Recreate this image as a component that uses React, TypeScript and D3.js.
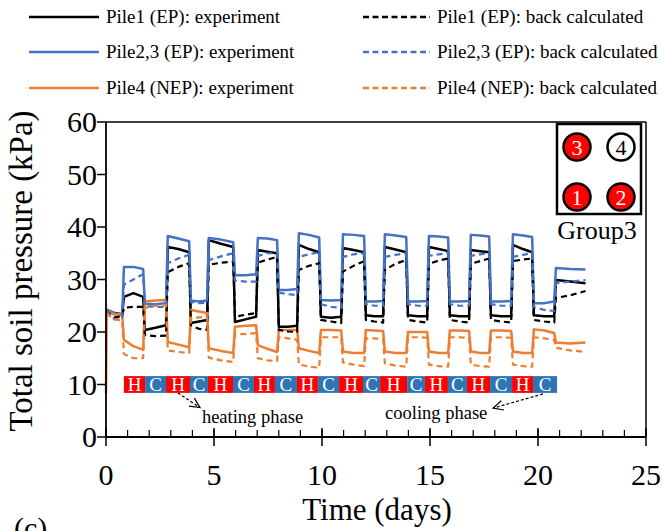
import React from 'react';
import * as d3 from 'd3';

// time grid (days) shared by all series
const days = [
  0, 0.03, 0.4, 0.75,
  0.83, 1.27, 1.72,
  1.80, 2.29, 2.78,
  2.86, 3.35, 3.85,
  3.93, 4.3, 4.68,
  4.76, 5.32, 5.89,
  5.97, 6.46, 6.95,
  7.03, 7.47, 7.92,
  8.00, 8.42, 8.85,
  8.93, 9.4, 9.87,
  9.95, 10.42, 10.89,
  10.97, 11.46, 11.95,
  12.03, 12.43, 12.83,
  12.91, 13.4, 13.9,
  13.98, 14.44, 14.87,
  14.95, 15.4, 15.84,
  15.92, 16.37, 16.81,
  16.89, 17.32, 17.74,
  17.82, 18.3, 18.76,
  18.84, 19.3, 19.73,
  19.81, 20.3, 20.75,
  20.83, 21.5, 22.2,
];

const pile1Exp = [
  24.0, 24.0, 23.6, 23.4,
  26.7, 27.4, 26.7,
  20.4, 20.8, 21.3,
  36.2, 35.8, 35.2,
  21.7, 22.0, 22.3,
  37.5, 36.8, 36.2,
  21.9, 22.4, 22.9,
  35.6, 35.3, 35.0,
  21.0, 21.0, 21.2,
  36.6, 35.8, 35.2,
  22.9, 22.7, 22.9,
  36.0, 35.6, 35.2,
  23.2, 23.0, 23.0,
  36.2, 35.7, 35.2,
  23.2, 23.0, 23.0,
  36.2, 35.8, 35.4,
  23.2, 23.0, 23.0,
  35.6, 35.4, 35.2,
  23.2, 23.0, 23.0,
  36.6, 35.8, 35.2,
  23.2, 23.0, 23.0,
  29.9, 29.6, 29.3,
];

const pile23Exp = [
  24.3, 24.3, 23.6, 23.2,
  32.4, 32.4, 32.0,
  25.4, 25.3, 25.5,
  38.3, 37.8, 37.3,
  26.0, 25.8, 26.0,
  37.9, 37.6, 37.1,
  30.8, 30.8, 31.0,
  37.9, 37.8, 37.5,
  28.0, 28.0, 28.2,
  38.8, 38.5, 38.0,
  26.1, 26.0, 26.1,
  38.6, 38.5, 38.3,
  25.8, 25.8, 25.9,
  38.6, 38.4, 38.1,
  25.8, 25.8, 25.9,
  38.3, 38.2, 38.0,
  25.8, 25.8, 25.9,
  38.5, 38.4, 38.2,
  25.8, 25.8, 25.9,
  38.6, 38.4, 38.1,
  25.5, 25.5, 25.8,
  32.2, 32.0, 31.9,
];

const pile4Exp = [
  8.4, 24.0, 23.3, 23.5,
  18.5, 17.3, 16.6,
  25.8, 26.0, 26.1,
  18.1, 17.6, 17.1,
  24.2, 23.9, 23.6,
  16.9, 16.4, 16.0,
  21.0, 21.2, 21.3,
  17.5, 16.8, 16.2,
  20.4, 20.4, 20.4,
  16.9, 16.4, 16.0,
  20.4, 20.4, 20.3,
  16.3, 16.0, 16.0,
  20.4, 20.3, 20.2,
  16.3, 16.0, 16.0,
  20.0, 20.0, 20.0,
  16.3, 16.0, 16.0,
  20.3, 20.3, 20.2,
  16.3, 16.0, 16.0,
  20.3, 20.3, 20.2,
  16.3, 16.0, 16.0,
  20.5, 20.3, 19.8,
  18.0, 17.8, 18.0,
];

const pile1Calc = [
  24.0, 24.0, 22.8, 23.0,
  24.6, 24.8, 24.8,
  19.4, 19.2, 19.3,
  31.4, 32.4, 33.1,
  21.3, 20.6, 20.4,
  32.8, 33.2, 33.4,
  22.9, 23.3, 23.6,
  33.2, 33.8, 34.3,
  20.4, 20.1, 20.0,
  31.8, 32.6, 33.1,
  22.3, 22.0, 21.7,
  31.5, 32.6, 33.5,
  22.3, 22.0, 21.8,
  31.8, 33.0, 33.7,
  22.3, 22.0, 21.8,
  33.0, 33.6, 34.0,
  22.3, 22.0, 21.8,
  33.0, 33.5, 34.0,
  22.3, 22.0, 21.8,
  33.5, 33.8, 34.0,
  22.3, 22.0, 21.8,
  26.5, 27.0, 27.8,
];

const pile23Calc = [
  24.0, 24.0, 22.4, 22.6,
  29.0, 30.0, 31.0,
  24.9, 24.8, 24.8,
  33.1, 34.0, 34.7,
  25.7, 25.5, 25.6,
  33.7, 34.4, 35.0,
  29.8, 29.6, 29.6,
  34.5, 35.0, 35.0,
  27.5, 27.2, 27.0,
  34.3, 34.8, 35.2,
  25.3, 24.8, 24.6,
  34.3, 34.8, 35.0,
  25.3, 25.0, 25.0,
  34.3, 34.7, 35.0,
  25.3, 25.0, 25.0,
  34.5, 34.8, 35.0,
  25.3, 25.0, 25.0,
  34.5, 34.8, 35.0,
  25.3, 25.0, 25.0,
  34.3, 34.7, 35.0,
  24.8, 24.2, 24.0,
  29.3, 29.6, 29.9,
];

const pile4Calc = [
  23.5, 23.5, 22.4, 22.2,
  15.8, 15.0, 15.0,
  24.6, 25.0, 25.1,
  16.5, 16.2, 16.0,
  22.5, 22.8, 22.9,
  15.1, 14.6, 14.3,
  19.6, 19.6, 19.8,
  15.0, 14.6, 14.5,
  19.0, 18.8, 18.5,
  13.8, 13.4, 13.2,
  19.0, 19.0, 19.0,
  14.2, 13.8, 13.5,
  18.8, 18.8, 18.6,
  14.0, 13.6, 13.4,
  19.0, 19.0, 18.9,
  13.8, 13.5, 13.4,
  19.0, 19.0, 18.9,
  13.8, 13.5, 13.4,
  19.0, 19.0, 18.9,
  13.8, 13.5, 13.4,
  19.0, 18.8, 18.5,
  17.0, 16.5, 16.2,
];

// heating / cooling phase strip (day boundaries)
const phaseBounds = [0.83, 1.81, 2.78, 3.89, 4.72, 5.88, 6.85, 7.82, 8.84, 9.81, 10.79,
  11.90, 12.69, 13.94, 14.77, 15.83, 16.71, 17.78, 18.80, 19.77, 20.88];
const phaseLabels = ['H', 'C', 'H', 'C', 'H', 'C', 'H', 'C', 'H', 'C',
  'H', 'C', 'H', 'C', 'H', 'C', 'H', 'C', 'H', 'C'];

const xTicks = [0, 5, 10, 15, 20, 25];
const xMinorTicks = d3.range(0, 26, 1);
const yTicks = [0, 10, 20, 30, 40, 50, 60];

const BLACK = '#000000';
const BLUE = '#4472C4';
const ORANGE = '#ED7D31';

const seriesList = [
  { name: 'Pile1 (EP): experiment', values: pile1Exp, color: BLACK, dashed: false },
  { name: 'Pile2,3 (EP): experiment', values: pile23Exp, color: BLUE, dashed: false },
  { name: 'Pile4 (NEP): experiment', values: pile4Exp, color: ORANGE, dashed: false },
  { name: 'Pile1 (EP): back calculated', values: pile1Calc, color: BLACK, dashed: true },
  { name: 'Pile2,3 (EP): back calculated', values: pile23Calc, color: BLUE, dashed: true },
  { name: 'Pile4 (NEP): back calculated', values: pile4Calc, color: ORANGE, dashed: true },
];

const groupPiles = [
  { label: '3', active: true, col: 0, row: 0 },
  { label: '4', active: false, col: 1, row: 0 },
  { label: '1', active: true, col: 0, row: 1 },
  { label: '2', active: true, col: 1, row: 1 },
];

const FONT = "'Liberation Serif', 'Times New Roman', serif";

export default function App() {
  const W = 663, H = 531;
  const x = d3.scaleLinear().domain([0, 25]).range([106, 646]);
  const y = d3.scaleLinear().domain([0, 60]).range([437, 122]);

  const line = d3.line<[number, number]>()
    .x((d) => x(d[0]))
    .y((d) => y(d[1]));

  const stripTop = y(11.6);
  const stripBot = y(8.4);

  const arrow = (x1: number, y1: number, x2: number, y2: number) => {
    const ang = Math.atan2(y2 - y1, x2 - x1);
    const L = 11;
    const a1 = ang + Math.PI - 0.45;
    const a2 = ang + Math.PI + 0.45;
    return (
      <g>
        <line x1={x1} y1={y1} x2={x2} y2={y2} stroke="#000" strokeWidth={1.2} strokeDasharray="3,2" />
        <path
          d={`M${x2 + L * Math.cos(a1)},${y2 + L * Math.sin(a1)} L${x2},${y2} L${x2 + L * Math.cos(a2)},${y2 + L * Math.sin(a2)}`}
          fill="none" stroke="#000" strokeWidth={1.2}
        />
      </g>
    );
  };

  const legendRows = [17, 52, 88];

  return (
    <svg width={W} height={H} style={{ position: 'absolute', left: 0, top: 0, background: '#fff' }}
      fontFamily={FONT}>
      <rect x={0} y={0} width={W} height={H} fill="#fff" />

      {/* legend */}
      {seriesList.map((s, i) => {
        const col = s.dashed ? 1 : 0;
        const row = i % 3;
        const ly = legendRows[row];
        const lx1 = col === 0 ? 29 : 363;
        const lx2 = col === 0 ? 99 : 430;
        const tx = col === 0 ? 106 : 437;
        return (
          <g key={'lg' + i}>
            <line x1={lx1} y1={ly} x2={lx2} y2={ly} stroke={s.color} strokeWidth={s.dashed ? 2.5 : 2.5}
              strokeDasharray={s.dashed ? '6,3.5' : undefined} />
            <text x={tx} y={ly + 6} fontSize={19} fill="#000">{s.name}</text>
          </g>
        );
      })}

      {/* frame top/right */}
      <line x1={x(0)} y1={y(60)} x2={x(25)} y2={y(60)} stroke="#000" strokeWidth={1.5} />
      <line x1={x(25)} y1={y(60)} x2={x(25)} y2={y(0)} stroke="#000" strokeWidth={1.5} />

      {/* phase strip */}
      {phaseLabels.map((lab, i) => {
        const x1 = x(phaseBounds[i]);
        const x2 = x(phaseBounds[i + 1]);
        return (
          <g key={'ph' + i}>
            <rect x={x1} y={stripTop} width={x2 - x1} height={stripBot - stripTop}
              fill={lab === 'H' ? '#FF0000' : '#2E75B6'} />
            <text x={(x1 + x2) / 2} y={(stripTop + stripBot) / 2 + 6.5} fontSize={19} fill="#fff"
              textAnchor="middle">{lab}</text>
          </g>
        );
      })}

      {/* data lines */}
      {seriesList.map((s, i) => (
        <path key={'s' + i}
          d={line(days.map((t, j) => [t, s.values[j]] as [number, number])) || ''}
          fill="none" stroke={s.color} strokeWidth={s.dashed ? 2.2 : 2.5}
          strokeDasharray={s.dashed ? '6,4' : undefined}
          strokeLinejoin="round" />
      ))}

      {/* annotations */}
      {arrow(x(3.33), y(8.4), x(4.35), y(5.6))}
      {arrow(x(20.23), y(8.2), x(17.92), y(5.5))}
      <text x={x(4.44)} y={423} fontSize={18.5} fill="#000">heating phase</text>
      <text x={x(12.92)} y={419} fontSize={18.5} fill="#000">cooling phase</text>

      {/* axes */}
      <line x1={x(0)} y1={y(0)} x2={x(25)} y2={y(0)} stroke="#000" strokeWidth={1.8} />
      <line x1={x(0)} y1={y(0)} x2={x(0)} y2={y(60)} stroke="#000" strokeWidth={1.8} />
      {xMinorTicks.map((t) => (
        <line key={'mt' + t} x1={x(t)} x2={x(t)} y1={y(0)} y2={y(0) - 7} stroke="#000" strokeWidth={1.2} />
      ))}
      {xTicks.map((t) => (
        <g key={'xt' + t}>
          <line x1={x(t)} x2={x(t)} y1={y(0) - 9} y2={y(0) + 9} stroke="#000" strokeWidth={1.5} />
          <text x={x(t)} y={485} fontSize={30} textAnchor="middle" fill="#000">{t}</text>
        </g>
      ))}
      {yTicks.map((t) => (
        <g key={'yt' + t}>
          <line x1={x(0) - 9} x2={x(0)} y1={y(t)} y2={y(t)} stroke="#000" strokeWidth={1.5} />
          <text x={97} y={y(t) + 10} fontSize={30} textAnchor="end" fill="#000">{t}</text>
        </g>
      ))}
      <text x={377} y={520} fontSize={31} textAnchor="middle" fill="#000">Time (days)</text>
      <text transform={`translate(32, 271) rotate(-90)`} fontSize={33} textAnchor="middle" fill="#000">
        Total soil pressure (kPa)
      </text>
      <text x={14} y={538} fontSize={30} fill="#000">(c)</text>

      {/* inset: group layout */}
      <rect x={557} y={124} width={84} height={90} fill="#fff" stroke="#000" strokeWidth={2.5} />
      {groupPiles.map((p) => {
        const cx = 577 + p.col * 44;
        const cy = 147 + p.row * 50;
        return (
          <g key={'gp' + p.label}>
            <circle cx={cx} cy={cy} r={13.5} fill={p.active ? '#FF0000' : '#fff'} stroke="#000" strokeWidth={2.5} />
            <text x={cx} y={cy + 8} fontSize={22} textAnchor="middle" fill={p.active ? '#fff' : '#000'}>{p.label}</text>
          </g>
        );
      })}
      <text x={597} y={239} fontSize={26} textAnchor="middle" fill="#000">Group3</text>
    </svg>
  );
}
